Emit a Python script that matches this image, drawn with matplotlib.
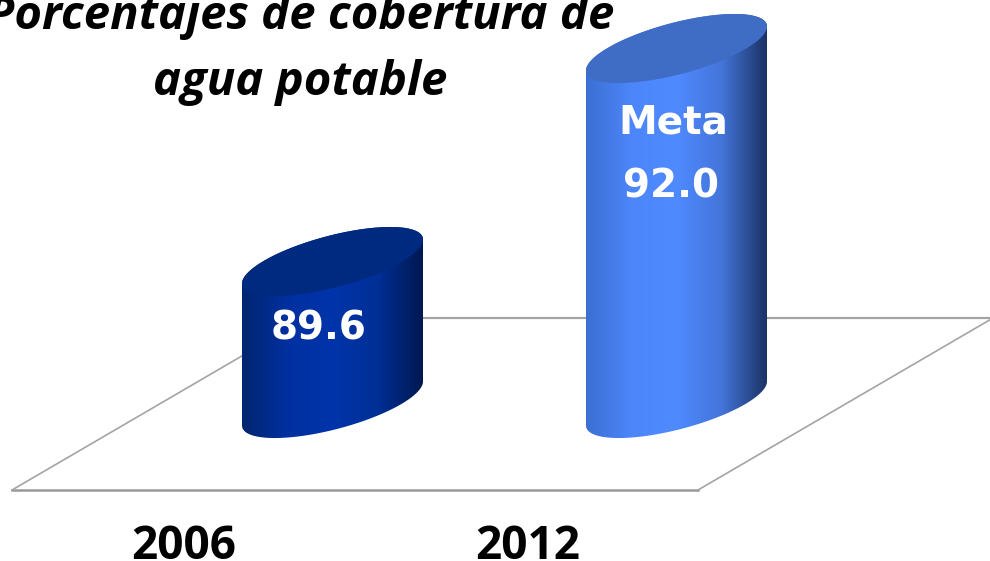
import numpy as np
import matplotlib
matplotlib.use("Agg")
import matplotlib.pyplot as plt
from matplotlib.colors import LinearSegmentedColormap
from matplotlib.patches import Polygon

years = ["2006", "2012"]
values = [89.6, 92.0]
labels = ["89.6", "Meta\n92.0"]
title_lines = ["Porcentajes de cobertura de", "agua potable"]

base = 88.0
W, H = 990, 561
x0_px, dx_px = 332.5, 344.0
y0_px, dy_px = 403.5, 88.75


# pixel <-> data helpers, the axes fill the whole figure
def px_x(p):
    return (np.asarray(p, dtype=float) - x0_px) / dx_px


def px_y(p):
    return base + (y0_px - np.asarray(p, dtype=float)) / dy_px


fig = plt.figure(figsize=(W / 100, H / 100), dpi=100)
ax = fig.add_axes([0, 0, 1, 1])
ax.axis("off")

# floor
grey = "#a4a4a4"
ax.plot(px_x([12, 698]), px_y([490, 490]), color="#999999", lw=1.8, zorder=1)
ax.plot(px_x([12, 307]), px_y([490, 318]), color=grey, lw=1.2, zorder=1)
ax.plot(px_x([698, 993]), px_y([490, 318]), color=grey, lw=1.2, zorder=1)
ax.plot(px_x([307, 990]), px_y([318, 318]), color=grey, lw=1.6, zorder=1)

body_colors = [
    ["#00256f", "#0030a0", "#0034aa", "#002f96", "#001850"],
    ["#3b6fd2", "#4c86fa", "#4f8aff", "#4475da", "#1b3364"],
]
top_colors = ["#002a80", "#3f6cc4"]
half_w = 90.5
slant = 22.0
minor = 26.6
t = np.linspace(0, 2 * np.pi, 361)
ex = half_w * np.cos(t) / dx_px
ey = (slant * np.cos(t) + minor * np.sin(t)) / dy_px
half = t <= np.pi

for i, v in enumerate(values):
    # outline: far half of the top ellipse, near half of the bottom one
    outline = np.column_stack([
        np.concatenate([i + ex[half], i - ex[half]]),
        np.concatenate([v + ey[half], base - ey[half]]),
    ])
    body = Polygon(outline, closed=True, facecolor="none", edgecolor="none", zorder=2)
    ax.add_patch(body)

    cmap = LinearSegmentedColormap.from_list("b%d" % i, body_colors[i])
    grad = np.linspace(0, 1, 256).reshape(1, -1)
    im = ax.imshow(grad, cmap=cmap, aspect="auto", zorder=2,
                   extent=[i - half_w / dx_px, i + half_w / dx_px, base - 1, v + 1],
                   interpolation="bilinear")
    im.set_clip_path(body)

    ax.fill(i + ex, v + ey, color=top_colors[i], lw=0, zorder=3)

ax.set_xlim(px_x(0), px_x(W))
ax.set_ylim(px_y(H), px_y(0))

# value labels
ax.text(px_x(319), px_y(340), labels[0], color="white", fontsize=28, fontweight="bold",
        family="DejaVu Sans", ha="center", va="baseline", zorder=4)
meta, val = labels[1].split("\n")
ax.text(px_x(673), px_y(134), meta, color="white", fontsize=28, fontweight="bold",
        family="DejaVu Sans", ha="center", va="baseline", zorder=4)
ax.text(px_x(671), px_y(198), val, color="white", fontsize=28, fontweight="bold",
        family="DejaVu Sans", ha="center", va="baseline", zorder=4)

# years
for i, y in enumerate(years):
    ax.text(i + px_x(183.5), px_y(559), y, color="black", fontsize=33, fontweight="bold",
            family="Open Sans", ha="center", va="baseline", zorder=4)

# title
ax.text(px_x(301), px_y(29), title_lines[0], color="black", fontsize=34, fontweight="bold",
        fontstyle="italic", family="Open Sans", ha="center", va="baseline", zorder=4)
ax.text(px_x(300), px_y(95), title_lines[1], color="black", fontsize=34, fontweight="bold",
        fontstyle="italic", family="Open Sans", ha="center", va="baseline", zorder=4)

fig.savefig("out.png", dpi=100, facecolor="white")
